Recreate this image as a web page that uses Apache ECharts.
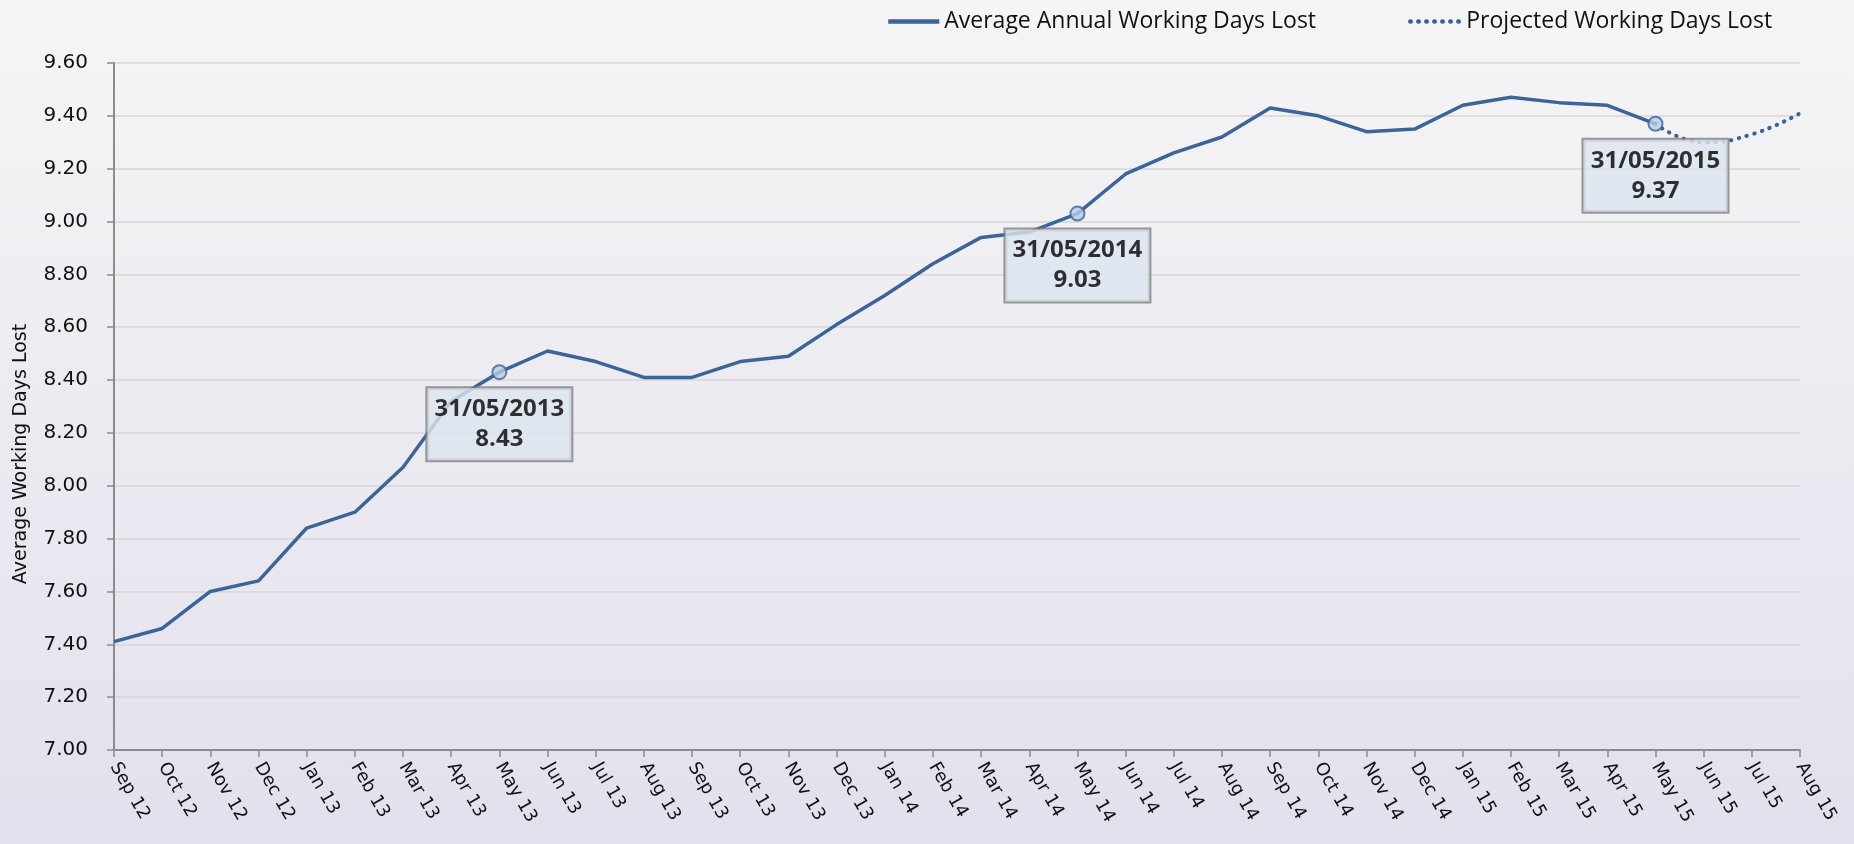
<!DOCTYPE html>
<html>
<head>
<meta charset="utf-8">
<script src="https://cdn.jsdelivr.net/npm/echarts@6/dist/echarts.min.js"></script>
<style>
  html, body { margin: 0; padding: 0; }
  #main-echart { width: 1854px; height: 844px; }
</style>
</head>
<body>
<div id="main-echart"></div>
<script>
// months on the x axis
const months = ['Sep 12','Oct 12','Nov 12','Dec 12','Jan 13','Feb 13','Mar 13','Apr 13','May 13','Jun 13','Jul 13','Aug 13',
  'Sep 13','Oct 13','Nov 13','Dec 13','Jan 14','Feb 14','Mar 14','Apr 14','May 14','Jun 14','Jul 14','Aug 14',
  'Sep 14','Oct 14','Nov 14','Dec 14','Jan 15','Feb 15','Mar 15','Apr 15','May 15','Jun 15','Jul 15','Aug 15'];

// actual rolling average (Sep 12 - May 15)
const actualValues = [7.41, 7.46, 7.60, 7.64, 7.84, 7.90, 8.07, 8.32, 8.43, 8.51, 8.47, 8.41,
  8.41, 8.47, 8.49, 8.61, 8.72, 8.84, 8.94, 8.96, 9.03, 9.18, 9.26, 9.32,
  9.43, 9.40, 9.34, 9.35, 9.44, 9.47, 9.45, 9.44, 9.37];

// projection starts at May 15
const projectedStart = 32;
const projectedValues = [9.37, 9.30, 9.33, 9.41];

// highlighted year-end points
const highlightMonths = ['May 13', 'May 14', 'May 15'];
const highlightDates = ['31/05/2013', '31/05/2014', '31/05/2015'];

const yTicks = { min: 7.0, max: 9.6, step: 0.2 };

const lineColor = '#3b6598';
const axisFont = 'DejaVu Sans';

let projectedData = months.map((m, i) => {
  const k = i - projectedStart;
  return (k >= 0 && k < projectedValues.length) ? projectedValues[k] : null;
});

let highlightData = highlightMonths.map((m, j) => {
  const idx = months.indexOf(m);
  const v = actualValues[idx];
  return {
    value: [idx, v],
    label: { formatter: highlightDates[j] + '\n' + v.toFixed(2) }
  };
});

try {
  let myChart = echarts.init(document.getElementById('main-echart'));
  let option = {
    backgroundColor: {
      type: 'linear', x: 0, y: 0, x2: 0, y2: 1,
      colorStops: [{ offset: 0, color: '#f5f5f5' }, { offset: 1, color: '#e3e0ed' }]
    },
    animation: false,
    grid: { left: 114, right: 54, top: 63, bottom: 94 },
    legend: {
      left: 881, top: 5,
      itemWidth: 51, itemHeight: 14, itemGap: 92,
      itemStyle: { opacity: 0 },
      lineStyle: { width: 4.5 },
      data: ['Average Annual Working Days Lost', 'Projected Working Days Lost'],
      textStyle: { fontFamily: 'Open Sans', fontSize: 23, color: '#111' }
    },
    graphic: [{
      type: 'text',
      x: 21, y: 454,
      rotation: Math.PI / 2,
      style: {
        text: 'Average Working Days Lost',
        fontFamily: axisFont, fontSize: 19, fill: '#111',
        textAlign: 'center', textVerticalAlign: 'middle'
      }
    }],
    xAxis: {
      type: 'category',
      boundaryGap: false,
      data: months,
      axisLine: { lineStyle: { color: '#8c8c8c', width: 2 } },
      axisTick: { show: true, length: 7, lineStyle: { color: '#8c8c8c', width: 1.5 } },
      axisLabel: {
        rotate: -60, margin: 14, interval: 0,
        fontFamily: axisFont, fontSize: 18, color: '#111'
      },
      splitLine: { show: false }
    },
    yAxis: {
      type: 'value',
      min: yTicks.min, max: yTicks.max, interval: yTicks.step,
      axisLine: { show: true, lineStyle: { color: '#8c8c8c', width: 2 } },
      axisTick: { show: true, length: 7, lineStyle: { color: '#8c8c8c', width: 1.5 } },
      axisLabel: {
        margin: 26, fontFamily: axisFont, fontSize: 20, color: '#111',
        formatter: v => v.toFixed(2)
      },
      splitLine: { lineStyle: { color: '#d6d6d6', width: 1.5 } }
    },
    series: [{
      name: 'Average Annual Working Days Lost',
      type: 'line',
      data: actualValues,
      symbol: 'none',
      itemStyle: { color: lineColor },
      lineStyle: { color: lineColor, width: 3.5 },
      z: 3
    }, {
      name: 'Projected Working Days Lost',
      type: 'line',
      data: projectedData,
      smooth: true,
      symbol: 'none',
      itemStyle: { color: lineColor },
      lineStyle: { color: lineColor, width: 4, type: [0.5, 7.5], cap: 'round' },
      z: 2
    }, {
      name: 'highlights',
      type: 'scatter',
      data: highlightData,
      symbol: 'circle',
      symbolSize: 14,
      itemStyle: { color: '#b8cce4', borderColor: lineColor, borderWidth: 2 },
      label: {
        show: true,
        position: 'bottom',
        distance: 8,
        width: 144,
        align: 'center',
        lineHeight: 30,
        padding: [6, 0],
        fontFamily: 'Open Sans', fontWeight: 'bold', fontSize: 24, color: '#000',
        backgroundColor: '#dde5f0',
        borderColor: '#808080', borderWidth: 2
      },
      z: 4
    }]
  };
  myChart.setOption(option);
} catch (e) {
  console.log(e);
}
</script>
</body>
</html>
